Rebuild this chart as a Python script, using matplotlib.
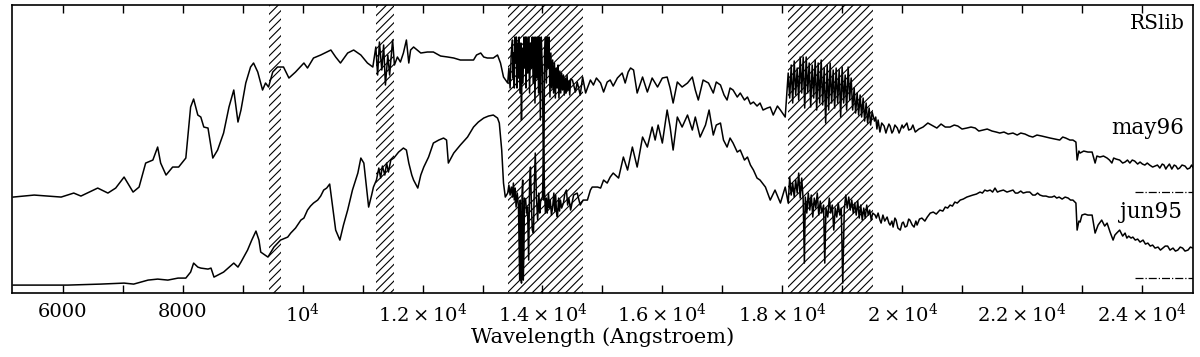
import numpy as np
import matplotlib
matplotlib.use('Agg')
import matplotlib.pyplot as plt
from matplotlib.ticker import MultipleLocator, FixedLocator, FixedFormatter

plt.rcParams['font.family'] = ['DejaVu Serif']
plt.rcParams['mathtext.fontset'] = 'dejavuserif'
plt.rcParams['hatch.linewidth'] = 0.8

# digitised spectra, wavelength in Angstroem, flux in arbitrary units
# may96 (upper spectrum), split in pieces around the noisy bands
may96_wl_blue = [5170, 5520, 5970, 6180, 6300, 6580, 6750, 6880, 7020, 7080,
                 7170, 7270, 7380, 7500, 7580, 7630, 7720, 7830, 7930, 8050,
                 8130, 8180, 8250, 8300, 8350, 8420, 8500, 8580, 8680, 8770,
                 8850, 8920, 8970, 9050, 9130, 9180, 9250, 9330, 9380, 9430,
                 9500, 9580, 9680, 9770, 9880, 10020, 10080, 10180, 10300, 10470,
                 10550, 10630, 10750, 10850, 10970, 11080, 11170, 11220, 11250, 11280,
                 11320, 11350, 11380, 11420, 11450, 11500, 11530, 11580, 11630, 11680,
                 11730, 11770, 11800, 11850, 11970, 12080, 12180, 12300, 12420, 12520,
                 12630, 12750, 12850, 12900, 12970, 13020, 13080, 13180, 13250, 13300,
                 13350, 13420]
may96_fl_blue = [96, 98, 96, 100, 97, 105, 100, 105, 116, 110,
                 101, 106, 130, 133, 146, 130, 118, 126, 126, 135,
                 186, 194, 178, 176, 166, 165, 135, 143, 160, 186,
                 203, 171, 183, 210, 226, 230, 221, 203, 210, 206,
                 221, 226, 226, 215, 221, 230, 225, 235, 238, 243,
                 236, 230, 240, 243, 238, 230, 226, 246, 218, 251,
                 223, 248, 208, 238, 218, 253, 228, 236, 231, 240,
                 253, 230, 243, 246, 240, 241, 241, 237, 236, 235,
                 233, 233, 233, 238, 240, 236, 235, 235, 238, 230,
                 216, 210]
may96_wl_h2o1 = [13440, 13460, 13480, 13500, 13510, 13520, 13530, 13540, 13555, 13565,
                 13575, 13590, 13600, 13610, 13625, 13640, 13650, 13660, 13675, 13690,
                 13700, 13715, 13725, 13740, 13755, 13770, 13785, 13800, 13815, 13830,
                 13845, 13860, 13875, 13890, 13905, 13920, 13935, 13950, 13965, 13980,
                 14000, 14020, 14035, 14050, 14065, 14080, 14095, 14110, 14125, 14140,
                 14155, 14170, 14185, 14200, 14215, 14230, 14245, 14260, 14275, 14290,
                 14305, 14320, 14335, 14350, 14365, 14380, 14395, 14410, 14425, 14440,
                 14455, 14470]
may96_fl_h2o1 = [225, 205, 240, 253, 215, 240, 205, 256, 230, 256,
                 205, 250, 215, 256, 200, 250, 173, 245, 210, 256,
                 225, 256, 205, 256, 220, 256, 200, 250, 225, 256,
                 210, 256, 190, 256, 215, 256, 200, 256, 173, 256,
                 220, 93, 240, 256, 210, 256, 225, 256, 196, 240,
                 205, 233, 200, 230, 195, 225, 205, 228, 195, 222,
                 200, 220, 203, 218, 198, 215, 200, 218, 203, 212,
                 198, 214]
may96_wl_mid = [14500, 14550, 14580, 14630, 14670, 14720, 14750, 14800, 14850, 14900,
                14970, 15020, 15080, 15130, 15180, 15250, 15330, 15380, 15430, 15470,
                15520, 15580, 15670, 15750, 15830, 15920, 16000, 16080, 16130, 16180,
                16250, 16330, 16420, 16500, 16550, 16600, 16680, 16770, 16850, 16900,
                16970, 17030, 17080, 17130, 17180, 17250, 17300, 17370, 17420, 17470,
                17520, 17580, 17630, 17680, 17750, 17800, 17850, 17920, 17970, 18050]
may96_fl_mid = [213, 201, 211, 198, 216, 200, 205, 213, 208, 215,
                210, 201, 211, 213, 207, 215, 220, 210, 221, 225,
                223, 200, 216, 201, 215, 206, 215, 216, 205, 190,
                211, 206, 210, 216, 203, 193, 213, 210, 200, 211,
                208, 198, 193, 205, 203, 196, 200, 193, 196, 189,
                191, 187, 190, 183, 185, 186, 178, 187, 183, 176]
may96_wl_h2o2 = [18100, 18125, 18150, 18175, 18200, 18225, 18250, 18275, 18300, 18325,
                 18350, 18375, 18400, 18425, 18450, 18475, 18500, 18525, 18550, 18575,
                 18600, 18625, 18650, 18675, 18700, 18725, 18750, 18775, 18800, 18825,
                 18850, 18875, 18900, 18925, 18950, 18975, 19000, 19025, 19050, 19075,
                 19100, 19125, 19150, 19175, 19200, 19225, 19250, 19275, 19300, 19325,
                 19350, 19375, 19400, 19425, 19450, 19475, 19500]
may96_fl_h2o2 = [220, 195, 228, 190, 232, 198, 225, 193, 236, 200,
                 236, 185, 236, 200, 230, 186, 228, 195, 233, 183,
                 230, 190, 233, 188, 225, 170, 228, 183, 230, 190,
                 223, 185, 225, 190, 223, 176, 226, 190, 218, 183,
                 226, 193, 215, 183, 205, 180, 200, 178, 198, 176,
                 195, 172, 190, 170, 185, 168, 181]
may96_wl_red = [19540, 19560, 19580, 19600, 19630, 19660, 19700, 19730, 19750, 19780,
                19800, 19830, 19850, 19880, 19920, 19950, 19970, 20000, 20020, 20080,
                20110, 20150, 20180, 20220, 20280, 20350, 20430, 20520, 20580, 20650,
                20720, 20800, 20870, 20930, 21000, 21080, 21150, 21220, 21280, 21350,
                21420, 21500, 21570, 21630, 21700, 21770, 21850, 21920, 21980, 22050,
                22120, 22180, 22250, 22330, 22400, 22470, 22550, 22630, 22680, 22730,
                22800, 22850, 22900, 22920, 22950, 22970, 23030, 23100, 23170, 23220,
                23250, 23300, 23360, 23420, 23460, 23500, 23530, 23570, 23630, 23680,
                23720, 23760, 23800, 23840, 23880, 23930, 23970, 24010, 24050, 24090,
                24130, 24180, 24220, 24260, 24300, 24340, 24370, 24400, 24420, 24460,
                24500, 24540, 24570, 24600, 24630, 24670, 24720, 24760, 24800, 24830,
                24850]
may96_fl_red = [172, 176, 164, 173, 161, 170, 167, 160, 164, 169,
                167, 160, 162, 168, 165, 160, 163, 168, 165, 170,
                163, 164, 168, 161, 164, 166, 170, 167, 165, 169,
                166, 166, 168, 167, 164, 165, 166, 165, 162, 163,
                164, 162, 161, 160, 161, 159, 160, 158, 160, 159,
                157, 156, 158, 157, 156, 155, 154, 153, 156, 155,
                153, 153, 151, 133, 142, 140, 142, 141, 141, 130,
                137, 136, 137, 135, 133, 130, 135, 134, 133, 130,
                131, 133, 130, 133, 132, 129, 131, 129, 128, 130,
                128, 126, 127, 128, 125, 129, 128, 124, 126, 129,
                124, 128, 127, 124, 125, 128, 127, 124, 125, 128,
                126]

# jun95 (lower spectrum)
jun95_wl_blue = [5170, 5630, 6080, 6630, 7020, 7180, 7420, 7580, 7750, 7920,
                 8050, 8130, 8180, 8250, 8300, 8420, 8470, 8520, 8680, 8850,
                 8920, 8970, 9080, 9150, 9220, 9270, 9300, 9420, 9470, 9520,
                 9630, 9750, 9800, 9880, 9970, 10020, 10080, 10130, 10180, 10250,
                 10300, 10350, 10400, 10450, 10500, 10550, 10620, 10680, 10750, 10830,
                 10920, 10970, 11020, 11070, 11100, 11150, 11180, 11230, 11270, 11300,
                 11330, 11370, 11400, 11430, 11470, 11520, 11600, 11680, 11730, 11770,
                 11820, 11850, 11920, 11970, 12020, 12100, 12180, 12270, 12350, 12400,
                 12430, 12520, 12630, 12750, 12850, 12930, 13020, 13100, 13180, 13250,
                 13280, 13320, 13350, 13380]
jun95_fl_blue = [8, 8, 8, 9, 10, 9, 13, 14, 13, 15,
                 15, 21, 30, 26, 25, 24, 25, 16, 21, 30,
                 26, 31, 43, 53, 62, 53, 41, 36, 41, 46,
                 53, 56, 60, 65, 73, 75, 83, 87, 90, 93,
                 97, 103, 105, 109, 86, 63, 53, 68, 83, 103,
                 120, 135, 130, 103, 86, 98, 106, 113, 125, 115,
                 127, 118, 130, 121, 133, 135, 141, 145, 143, 130,
                 118, 113, 105, 118, 126, 136, 150, 153, 155, 153,
                 130, 140, 148, 156, 166, 171, 175, 177, 178, 175,
                 170, 143, 110, 96]
jun95_wl_h2o1 = [13420, 13440, 13460, 13480, 13500, 13515, 13530, 13545, 13560, 13580,
                 13600, 13620, 13630, 13640, 13650, 13660, 13670, 13680, 13690, 13700,
                 13720, 13735, 13750, 13770, 13785, 13800, 13815, 13830, 13850, 13865,
                 13880, 13900, 13920, 13940, 13955, 13970, 14000, 14020, 14035, 14050,
                 14065, 14080, 14100, 14115, 14130, 14150, 14170, 14190, 14205, 14220,
                 14235, 14250, 14270, 14285, 14300, 14320, 14350, 14375, 14400, 14420,
                 14440, 14470]
jun95_fl_h2o1 = [100, 108, 98, 106, 96, 110, 93, 105, 86, 100,
                 86, 13, 93, 20, 10, 100, 113, 13, 40, 95,
                 93, 80, 86, 33, 110, 126, 90, 63, 60, 110,
                 140, 95, 73, 100, 80, 93, 96, 143, 100, 80,
                 95, 80, 100, 85, 93, 78, 86, 100, 82, 98,
                 80, 76, 95, 82, 93, 85, 90, 100, 103, 88,
                 95, 83]
jun95_wl_mid = [14520, 14580, 14630, 14680, 14750,
                14800, 14830, 14920, 14970, 15020, 15080, 15130, 15180, 15270, 15350,
                15420, 15500, 15580, 15670, 15750, 15830, 15880, 15930, 16000, 16080,
                16130, 16180, 16250, 16330, 16420, 16500, 16550, 16630, 16720, 16780,
                16850, 16900, 16970, 17020, 17080, 17130, 17180, 17250, 17300, 17370,
                17420, 17470, 17520, 17580, 17630, 17720, 17770, 17800, 17880, 17970,
                18050]
jun95_fl_mid = [98, 100, 88, 93, 93,
                103, 106, 106, 105, 113, 110, 116, 120, 115, 136,
                123, 146, 126, 156, 146, 166, 153, 168, 150, 183,
                166, 143, 176, 166, 178, 163, 176, 156, 168, 183,
                158, 168, 170, 153, 146, 155, 150, 141, 143, 133,
                136, 128, 123, 115, 113, 106, 98, 93, 103, 90,
                106]
jun95_wl_h2o2 = [18100, 18125, 18150, 18175, 18200, 18225, 18250, 18275, 18300, 18325,
                 18350, 18370, 18385, 18410, 18435, 18460, 18485, 18510, 18535, 18560,
                 18585, 18610, 18635, 18660, 18690, 18710, 18730, 18760, 18785, 18810,
                 18835, 18860, 18885, 18910, 18935, 18960, 18985, 19010, 19035, 19060,
                 19085, 19110, 19135, 19160, 19185, 19210, 19235, 19260, 19285, 19310,
                 19335, 19360, 19385, 19410, 19435, 19460, 19485, 19510]
jun95_fl_h2o2 = [90, 116, 98, 110, 96, 113, 100, 120, 95, 115,
                 93, 30, 96, 80, 100, 83, 98, 76, 95, 85,
                 100, 78, 92, 80, 88, 30, 85, 76, 95, 80,
                 88, 63, 85, 76, 90, 78, 85, 10, 83, 98,
                 85, 96, 83, 93, 80, 90, 78, 92, 75, 88,
                 73, 85, 75, 88, 78, 83, 73, 80]
jun95_wl_red = [19550, 19570, 19600, 19630, 19650, 19680, 19710, 19750, 19780, 19800,
                19830, 19850, 19880, 19900, 19930, 19970, 20000, 20020, 20050, 20080,
                20110, 20130, 20170, 20200, 20230, 20250, 20290, 20330, 20380, 20420,
                20470, 20520, 20570, 20630, 20680, 20720, 20760, 20800, 20840, 20880,
                20920, 20970, 21020, 21080, 21130, 21180, 21240, 21300, 21340, 21380,
                21420, 21470, 21510, 21550, 21590, 21630, 21690, 21750, 21800, 21850,
                21890, 21930, 21980, 22020, 22080, 22130, 22180, 22220, 22260, 22300,
                22350, 22400, 22450, 22500, 22540, 22580, 22620, 22670, 22720, 22770,
                22810, 22850, 22900, 22920, 22950, 22970, 23000, 23050, 23100, 23170,
                23220, 23270, 23330, 23380, 23420, 23470, 23520, 23550, 23580, 23630,
                23680, 23720, 23750, 23780, 23820, 23850, 23890, 23930, 23970, 24020,
                24060, 24100, 24140, 24180, 24220, 24270, 24310, 24350, 24390, 24430,
                24470, 24520, 24560, 24600, 24640, 24680, 24720, 24770, 24810, 24850]
jun95_fl_red = [78, 75, 80, 73, 70, 78, 72, 76, 70, 68,
                72, 66, 75, 73, 65, 63, 70, 71, 66, 67,
                74, 73, 68, 66, 72, 68, 74, 75, 72, 76,
                80, 81, 79, 83, 82, 86, 85, 88, 87, 91,
                90, 93, 94, 96, 97, 98, 99, 101, 100, 103,
                102, 103, 101, 105, 101, 102, 103, 101, 102, 103,
                100, 100, 102, 100, 101, 101, 98, 98, 100, 98,
                97, 97, 96, 96, 97, 95, 96, 94, 96, 95,
                93, 93, 90, 63, 72, 71, 78, 79, 78, 78,
                60, 68, 73, 67, 70, 61, 53, 58, 60, 63,
                57, 60, 55, 57, 55, 56, 53, 54, 51, 53,
                49, 50, 47, 48, 45, 46, 43, 45, 47, 47,
                43, 45, 42, 43, 46, 45, 42, 43, 46, 45]

# telluric bands that are hatched
band_lo = [9430, 11230, 13430, 18090]
band_hi = [9630, 11530, 14680, 19520]

# reference levels drawn dash-dot at the right edge
ref_levels = [101, 15]
ref_start = 23880

tick_pos = [6000, 8000, 10000, 12000, 14000, 16000, 18000, 20000, 22000, 24000]
tick_lab = ['6000', '8000', r'$10^4$', r'$1.2\times10^4$', r'$1.4\times10^4$',
            r'$1.6\times10^4$', r'$1.8\times10^4$', r'$2\times10^4$',
            r'$2.2\times10^4$', r'$2.4\times10^4$']

x_min, x_max = 5150, 24850

may96_wl = np.concatenate([may96_wl_blue, may96_wl_h2o1, may96_wl_mid, may96_wl_h2o2, may96_wl_red])
may96_fl = np.concatenate([may96_fl_blue, may96_fl_h2o1, may96_fl_mid, may96_fl_h2o2, may96_fl_red])
jun95_wl = np.concatenate([jun95_wl_blue, jun95_wl_h2o1, jun95_wl_mid, jun95_wl_h2o2, jun95_wl_red])
jun95_fl = np.concatenate([jun95_fl_blue, jun95_fl_h2o1, jun95_fl_mid, jun95_fl_h2o2, jun95_fl_red])

fig = plt.figure(figsize=(12, 3.57), dpi=100)
ax = fig.add_axes([0.01, 0.179, 0.984, 0.807])

for lo, hi in zip(band_lo, band_hi):
    ax.axvspan(lo, hi, facecolor='none', edgecolor='black', hatch='////', lw=0)

ax.plot(may96_wl, may96_fl, color='black', lw=1.1)
ax.plot(jun95_wl, jun95_fl, color='black', lw=1.1)

for lev in ref_levels:
    ax.hlines(lev, ref_start, x_max, colors='black', lw=0.9, linestyles='dashdot')

ax.set_xlim(x_min, x_max)
ax.set_ylim(0, 288)

ax.xaxis.set_major_locator(FixedLocator(tick_pos))
ax.xaxis.set_major_formatter(FixedFormatter(tick_lab))
ax.xaxis.set_minor_locator(MultipleLocator(1000))
ax.tick_params(axis='x', which='both', direction='in', top=True, bottom=True,
               length=6, width=1.0, labelsize=14, pad=7)
ax.tick_params(axis='y', which='both', left=False, right=False, labelleft=False)
for sp in ax.spines.values():
    sp.set_linewidth(1.2)

ax.set_xlabel('Wavelength (Angstroem)', fontsize=15, labelpad=1)

ax.text(0.993, 0.935, 'RSlib', transform=ax.transAxes, ha='right', va='center', fontsize=14.5)
ax.text(0.993, 0.573, 'may96', transform=ax.transAxes, ha='right', va='center', fontsize=15.5)
ax.text(0.991, 0.281, 'jun95', transform=ax.transAxes, ha='right', va='center', fontsize=15.5)

fig.savefig('out.png', dpi=100)
